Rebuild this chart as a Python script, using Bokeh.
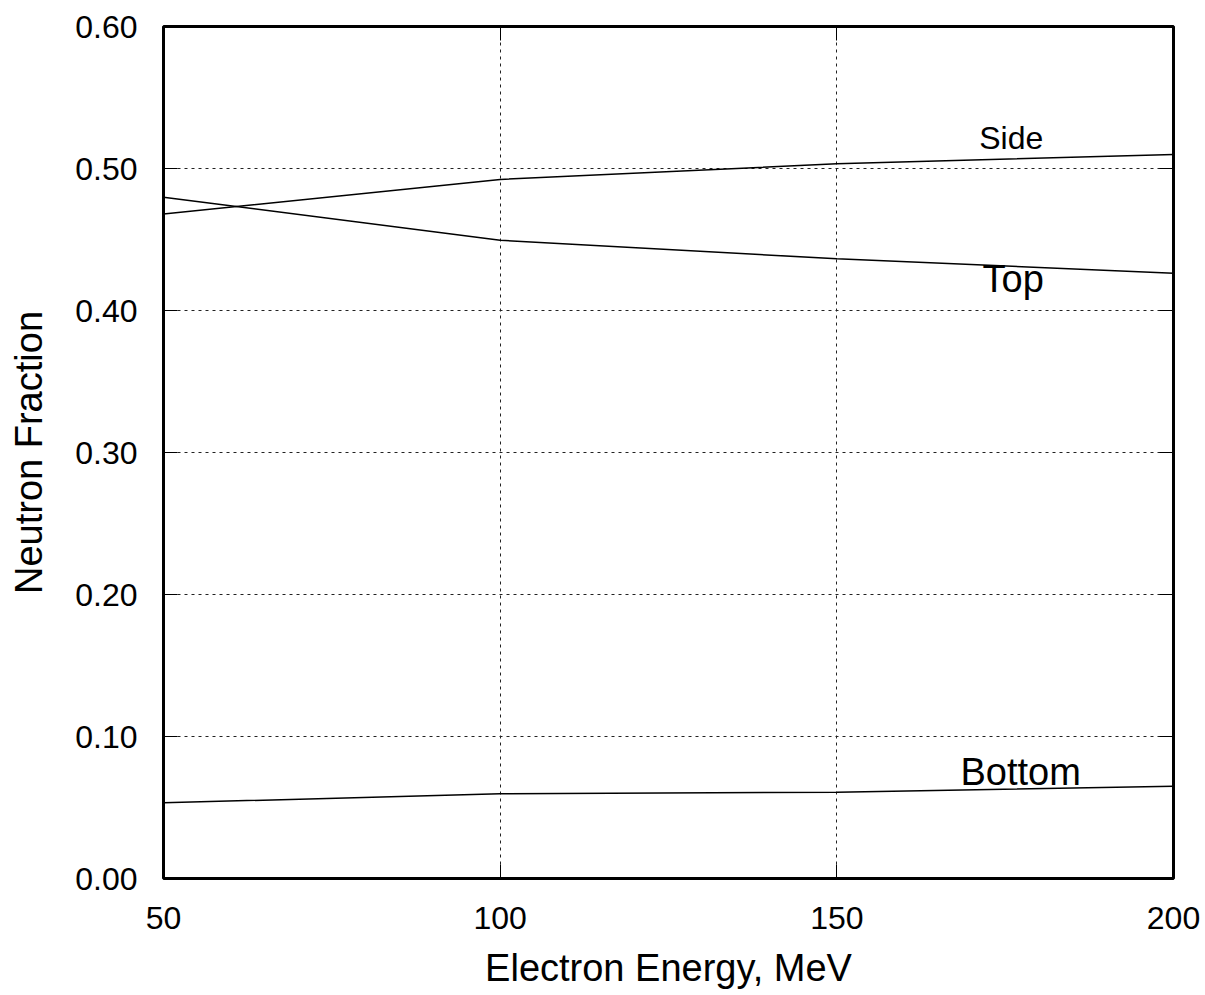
from bokeh.plotting import figure
from bokeh.models import Range1d, FixedTicker, NumeralTickFormatter, LinearAxis, Label
from bokeh.embed import file_html
from bokeh.resources import INLINE

# Neutron fraction by detector face vs. electron beam energy
energy = [50, 100, 150, 200]
side = [0.468, 0.4923, 0.5033, 0.5099]
top = [0.4798, 0.4495, 0.4364, 0.4263]
bottom = [0.0533, 0.0596, 0.0608, 0.0650]

x_ticks = [50, 100, 150, 200]
y_ticks = [0.0, 0.1, 0.2, 0.3, 0.4, 0.5, 0.6]

FONT = "Liberation Sans"

p = figure(width=1205, height=995, output_backend="svg", toolbar_location=None,
           x_range=Range1d(50, 200), y_range=Range1d(0, 0.6),
           min_border_left=163, min_border_right=32, min_border_top=26,
           min_border_bottom=117, x_axis_location=None, y_axis_location=None)

p.background_fill_color = "white"
p.border_fill_color = "white"
p.outline_line_color = "black"
p.outline_line_width = 3

# dashed grid
for g in (p.xgrid, p.ygrid):
    g.grid_line_color = "#222222"
    g.grid_line_width = 1
    g.grid_line_dash = "3 4"
p.xgrid.ticker = FixedTicker(ticks=x_ticks)
p.ygrid.ticker = FixedTicker(ticks=y_ticks)

xa = LinearAxis(ticker=FixedTicker(ticks=x_ticks), axis_label="Electron Energy, MeV")
ya = LinearAxis(ticker=FixedTicker(ticks=y_ticks), axis_label="Neutron Fraction",
                formatter=NumeralTickFormatter(format="0.00"))
for ax in (xa, ya):
    ax.axis_line_color = None
    ax.major_tick_in = 14
    ax.major_tick_out = 0
    ax.major_tick_line_color = "black"
    ax.minor_tick_line_color = None
    ax.major_label_text_font = FONT
    ax.major_label_text_font_size = "32px"
    ax.major_label_text_color = "black"
    ax.axis_label_text_font = FONT
    ax.axis_label_text_font_size = "38px"
    ax.axis_label_text_font_style = "normal"
    ax.axis_label_text_color = "black"
xa.major_label_standoff = 28
xa.axis_label_standoff = 15
ya.major_label_standoff = 26
ya.axis_label_standoff = 22
p.add_layout(xa, "below")
p.add_layout(ya, "left")

# mirrored ticks on the top and right edges
xt = LinearAxis(ticker=FixedTicker(ticks=x_ticks))
yr = LinearAxis(ticker=FixedTicker(ticks=y_ticks))
for ax in (xt, yr):
    ax.axis_line_color = None
    ax.major_tick_in = 14
    ax.major_tick_out = 0
    ax.major_tick_line_color = "black"
    ax.minor_tick_line_color = None
    ax.major_label_text_font_size = "0px"
    ax.major_label_text_color = None
p.add_layout(xt, "above")
p.add_layout(yr, "right")

for ys in (side, top, bottom):
    p.line(energy, ys, line_color="black", line_width=1.5)

for txt, lx, ly, size in (("Side", 175.9, 0.5138, "32px"),
                          ("Top", 176.2, 0.4141, "38px"),
                          ("Bottom", 177.3, 0.0674, "38px")):
    p.add_layout(Label(x=lx, y=ly, text=txt, text_font=FONT, text_font_size=size,
                       text_color="black", text_align="center",
                       text_baseline="alphabetic", y_offset=11))

open("out.html", "w").write(file_html(p, INLINE))
